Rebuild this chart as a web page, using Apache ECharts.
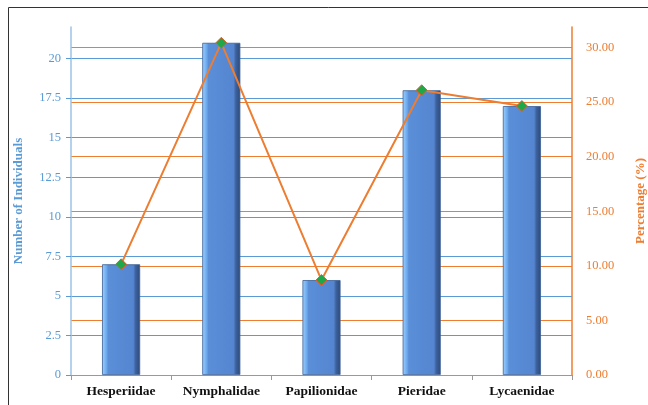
<!DOCTYPE html>
<html><head><meta charset="utf-8">
<script src="https://cdn.jsdelivr.net/npm/echarts@6/dist/echarts.min.js"></script>
<style>html,body{margin:0;padding:0;background:#fff}#c{width:648px;height:405px}</style>
</head><body><div id="c"></div>
<script>
var categories = ['Hesperiidae','Nymphalidae','Papilionidae','Pieridae','Lycaenidae'];
var individuals = [7, 21, 6, 18, 17];
var percentages = [10.14, 30.43, 8.70, 26.09, 24.64];
var leftTicks = {min: 0, max: 22, interval: 2.5};
var rightTicks = {min: 0, max: 31.884, interval: 5};

var chart = echarts.init(document.getElementById('c'));
var blue = '#5b9bd5';
var orange = '#ed7d31';
var font = 'Liberation Serif';
chart.setOption({
  animation: false,
  graphic: [{type:'rect', shape:{x:8.5,y:7.5,width:700,height:450}, style:{fill:'none',stroke:'#333',lineWidth:1}, z:-10}],
  grid: {left: 71, right: 76, top: 27, bottom: 30, outerBoundsMode: 'none', containLabel: false},
  xAxis: {
    type: 'category', data: categories,
    axisLine: {lineStyle: {color: '#999'}},
    axisTick: {show: true, lineStyle: {color: '#999'}},
    axisLabel: {interval: 0, color: '#111', fontFamily: font, fontWeight: 'bold', fontSize: 13.5, margin: 10}
  },
  yAxis: [{
    type: 'value', min: leftTicks.min, max: leftTicks.max, interval: leftTicks.interval,
    name: 'Number of Individuals', nameLocation: 'middle', nameGap: 46,
    nameTextStyle: {color: blue, fontFamily: font, fontWeight: 'bold', fontSize: 13},
    axisLine: {show: true, lineStyle: {color: '#9dc3e6', width: 1.5}},
    axisTick: {show: true, length: 5, lineStyle: {color: blue}},
    axisLabel: {color: blue, fontFamily: font, fontSize: 12.5, margin: 10, showMaxLabel: false},
    splitLine: {showMaxLine: false, lineStyle: {color: blue, width: 1.2}}
  },{
    type: 'value', min: rightTicks.min, max: rightTicks.max, interval: rightTicks.interval,
    name: 'Percentage (%)', nameLocation: 'middle', nameGap: 62, nameRotate: 90,
    nameTextStyle: {color: orange, fontFamily: font, fontWeight: 'bold', fontSize: 13},
    axisLine: {show: true, lineStyle: {color: orange, width: 1.5}},
    axisTick: {show: false},
    axisLabel: {color: orange, fontFamily: font, fontSize: 12.5, margin: 14, showMaxLabel: false,
      formatter: function(v){return v.toFixed(2);}},
    splitLine: {showMaxLine: false, lineStyle: {color: orange, width: 1.2}}
  }],
  series: [{
    type: 'bar', data: individuals, barWidth: '38%', yAxisIndex: 0,
    itemStyle: {
      color: new echarts.graphic.LinearGradient(0,0,1,0,[
        {offset:0, color:'#9fd0ff'},{offset:0.12, color:'#6aa8ec'},{offset:0.16, color:'#5a8fd8'},
        {offset:0.82, color:'#5585d0'},{offset:0.88, color:'#3d629e'},{offset:1, color:'#2c4a7a'}]),
      borderColor: '#3b5f95', borderWidth: 0.8
    }
  },{
    type: 'line', data: percentages, yAxisIndex: 1,
    lineStyle: {color: orange, width: 2},
    symbol: 'diamond', symbolSize: 11,
    itemStyle: {color: '#1ea84a', borderColor: '#e0602a', borderWidth: 1}
  }]
});
</script></body></html>
